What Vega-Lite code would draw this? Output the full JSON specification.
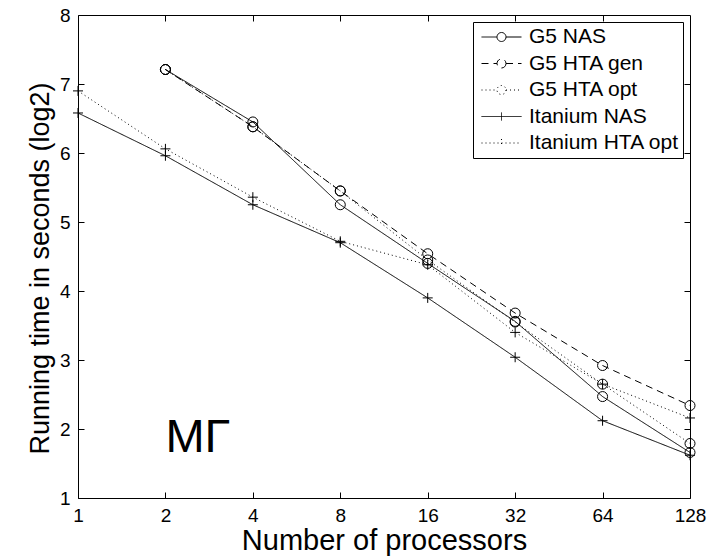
{
  "$schema": "https://vega.github.io/schema/vega-lite/v6.json",
  "width": 612,
  "height": 483,
  "autosize": {"type": "none"},
  "padding": {"left": 78, "top": 15, "right": 19, "bottom": 58},
  "background": "white",
  "config": {
    "font": "Liberation Sans",
    "view": {"stroke": "black", "strokeWidth": 1},
    "axis": {
      "domainColor": "black", "tickColor": "black", "labelColor": "black", "titleColor": "black",
      "labelFont": "Liberation Sans", "titleFont": "Liberation Sans",
      "labelFontSize": 19, "titleFontWeight": "normal", "grid": false,
      "tickSize": 6, "tickWidth": 1, "domainWidth": 1
    }
  },
  "data": {
    "values": [
      {"series": "G5 NAS", "procs": 2, "time": 7.21},
      {"series": "G5 NAS", "procs": 4, "time": 6.45},
      {"series": "G5 NAS", "procs": 8, "time": 5.25},
      {"series": "G5 NAS", "procs": 16, "time": 4.40},
      {"series": "G5 NAS", "procs": 32, "time": 3.56},
      {"series": "G5 NAS", "procs": 64, "time": 2.47},
      {"series": "G5 NAS", "procs": 128, "time": 1.66},
      {"series": "G5 HTA gen", "procs": 2, "time": 7.21},
      {"series": "G5 HTA gen", "procs": 4, "time": 6.38},
      {"series": "G5 HTA gen", "procs": 8, "time": 5.45},
      {"series": "G5 HTA gen", "procs": 16, "time": 4.54},
      {"series": "G5 HTA gen", "procs": 32, "time": 3.68},
      {"series": "G5 HTA gen", "procs": 64, "time": 2.92},
      {"series": "G5 HTA gen", "procs": 128, "time": 2.34},
      {"series": "G5 HTA opt", "procs": 2, "time": 7.21},
      {"series": "G5 HTA opt", "procs": 4, "time": 6.38},
      {"series": "G5 HTA opt", "procs": 8, "time": 5.45},
      {"series": "G5 HTA opt", "procs": 16, "time": 4.45},
      {"series": "G5 HTA opt", "procs": 32, "time": 3.55},
      {"series": "G5 HTA opt", "procs": 64, "time": 2.65},
      {"series": "G5 HTA opt", "procs": 128, "time": 1.79},
      {"series": "Itanium NAS", "procs": 1, "time": 6.58},
      {"series": "Itanium NAS", "procs": 2, "time": 5.96},
      {"series": "Itanium NAS", "procs": 4, "time": 5.25},
      {"series": "Itanium NAS", "procs": 8, "time": 4.70},
      {"series": "Itanium NAS", "procs": 16, "time": 3.90},
      {"series": "Itanium NAS", "procs": 32, "time": 3.04},
      {"series": "Itanium NAS", "procs": 64, "time": 2.12},
      {"series": "Itanium NAS", "procs": 128, "time": 1.62},
      {"series": "Itanium HTA opt", "procs": 1, "time": 6.90},
      {"series": "Itanium HTA opt", "procs": 2, "time": 6.06},
      {"series": "Itanium HTA opt", "procs": 4, "time": 5.36},
      {"series": "Itanium HTA opt", "procs": 8, "time": 4.72},
      {"series": "Itanium HTA opt", "procs": 16, "time": 4.38},
      {"series": "Itanium HTA opt", "procs": 32, "time": 3.40},
      {"series": "Itanium HTA opt", "procs": 64, "time": 2.65},
      {"series": "Itanium HTA opt", "procs": 128, "time": 2.16}
    ]
  },
  "layer": [
    {
      "mark": {"type": "line", "color": "black", "strokeWidth": 1, "clip": false},
      "encoding": {
        "x": {
          "field": "procs", "type": "quantitative",
          "scale": {"type": "log", "base": 2, "domain": [1, 128], "nice": false},
          "axis": {"orient": "bottom", "values": [1, 2, 4, 8, 16, 32, 64, 128], "format": "d",
                   "ticks": false, "labelPadding": 8, "labelFlush": false, "title": "Number of processors",
                   "titleFontSize": 29, "titlePadding": 1}
        },
        "y": {
          "field": "time", "type": "quantitative",
          "scale": {"domain": [1, 8], "nice": false, "zero": false},
          "axis": {"orient": "left", "values": [1, 2, 3, 4, 5, 6, 7, 8], "ticks": false, "labelPadding": 8,
                   "labelFlush": false, "title": "Running time in seconds (log2)",
                   "titleFontSize": 27, "titlePadding": 5, "titleY": 253}
        },
        "strokeDash": {
          "field": "series", "type": "nominal",
          "scale": {
            "domain": ["G5 NAS", "G5 HTA gen", "G5 HTA opt", "Itanium NAS", "Itanium HTA opt"],
            "range": [[1, 0], [7, 5], [1, 3], [1, 0], [1, 3]]
          },
          "legend": {
            "orient": "top-right", "offset": 7, "title": null,
            "strokeColor": "black", "fillColor": "white", "padding": 3,
            "labelFont": "Liberation Sans", "labelFontSize": 21, "labelColor": "black",
            "symbolSize": 1600, "clipHeight": 24, "rowPadding": 2.5, "labelOffset": 7, "symbolOffset": 5,
            "symbolStrokeColor": "black", "symbolStrokeWidth": 1, "symbolFillColor": "transparent",
            "encode": {
              "symbols": {
                "update": {
                  "shape": {"signal": "indexof(['G5 NAS','G5 HTA gen','G5 HTA opt'], datum.value) >= 0 ? 'M-1,0L-0.225,0M0.225,0L1,0M0.225,0C0.225,0.124,0.124,0.225,0,0.225C-0.124,0.225,-0.225,0.124,-0.225,0C-0.225,-0.124,-0.124,-0.225,0,-0.225C0.124,-0.225,0.225,-0.124,0.225,0' : 'M-1,0L1,0M0,-0.2L0,0.2'"},
                  "fill": {"value": "transparent"},
                  "stroke": {"value": "black"}
                }
              }
            }
          }
        }
      }
    },
    {
      "transform": [{"filter": "indexof(datum.series, 'G5') == 0"}],
      "mark": {"type": "point", "shape": "circle", "filled": false, "stroke": "black", "strokeWidth": 1, "size": 100, "clip": false, "opacity": 1},
      "encoding": {
        "x": {"field": "procs", "type": "quantitative",
              "axis": {"orient": "top", "offset": -483, "values": [2, 4, 8, 16, 32, 64], "labels": false, "title": null, "domain": false}},
        "y": {"field": "time", "type": "quantitative",
              "axis": {"orient": "right", "offset": -612, "values": [2, 3, 4, 5, 6, 7], "labels": false, "title": null, "domain": false}}
      }
    },
    {
      "transform": [{"filter": "indexof(datum.series, 'Itanium') == 0"}],
      "mark": {"type": "point", "shape": "M-1,0H1M0,-1V1", "filled": false, "stroke": "black", "strokeWidth": 1, "size": 100, "clip": false, "opacity": 1},
      "encoding": {
        "x": {"field": "procs", "type": "quantitative", "axis": null},
        "y": {"field": "time", "type": "quantitative", "axis": null}
      }
    },
    {
      "data": {"values": [{"procs": 2, "time": 1.67, "label": "MΓ"}]},
      "mark": {"type": "text", "align": "left", "baseline": "alphabetic", "fontSize": 47, "font": "Liberation Sans", "color": "black"},
      "encoding": {
        "x": {"field": "procs", "type": "quantitative",
              "axis": {"orient": "bottom", "offset": -483, "values": [2, 4, 8, 16, 32, 64], "labels": false, "title": null, "domain": false}},
        "y": {"field": "time", "type": "quantitative",
              "axis": {"orient": "left", "offset": -612, "values": [2, 3, 4, 5, 6, 7], "labels": false, "title": null, "domain": false}},
        "text": {"field": "label"}
      }
    }
  ],
  "resolve": {"axis": {"x": "independent", "y": "independent"}}
}
